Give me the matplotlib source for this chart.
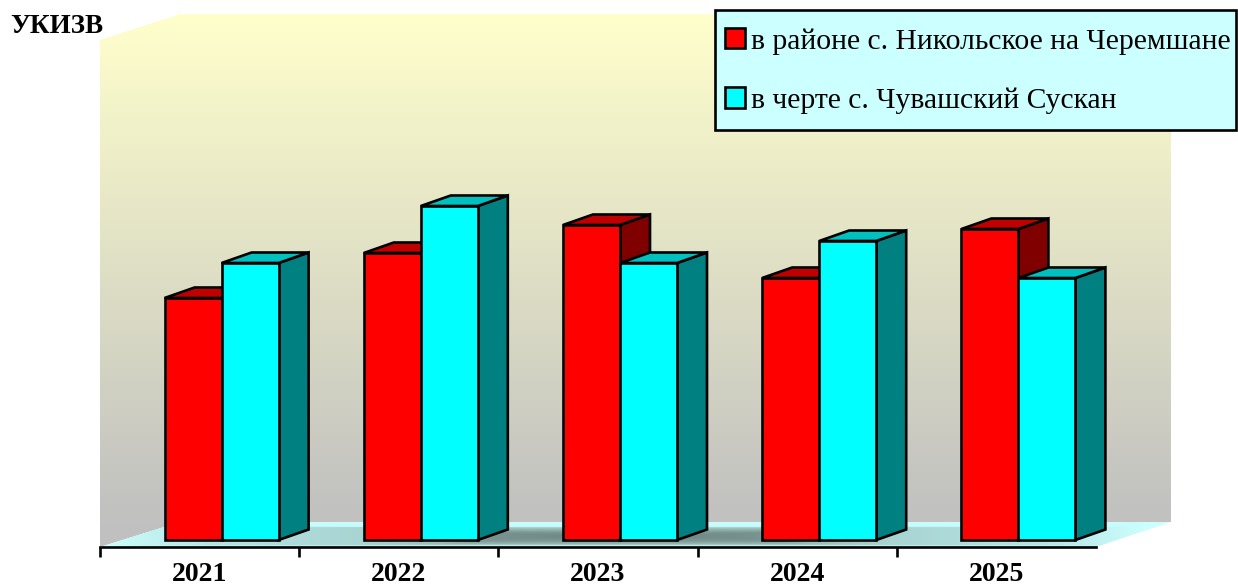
import numpy as np
import matplotlib
matplotlib.use("Agg")
import matplotlib.pyplot as plt
from matplotlib.patches import Polygon, Patch, Rectangle
from matplotlib.colors import LinearSegmentedColormap

years = ["2021", "2022", "2023", "2024", "2025"]
nikolskoe = [2.42, 2.87, 3.15, 2.62, 3.11]
suskan = [2.77, 3.34, 2.77, 2.99, 2.62]
series_names = ["в районе с. Никольское на Черемшане", "в черте с. Чувашский Сускан"]
y_title = "УКИЗВ"

W, H = 1238, 586
PX_X = 199.2        # pixels per category
PX_Y = 100.0        # pixels per value unit
X0, Y0 = 100, 540   # pixel position of category 0 / value 0
LINE = 1.9

plt.rcParams["font.family"] = ["Liberation Serif", "DejaVu Serif"]
fig = plt.figure(figsize=(W / 100, H / 100), dpi=100, facecolor="white")
ax = fig.add_axes([0, 0, 1, 1])
ax.set_facecolor("none")


def X(px):
    return (px - X0) / PX_X


def Y(py):
    return (Y0 - py) / PX_Y


xlim = (X(0), X(W))
ylim = (Y(H), Y(0))

# back and side walls share one vertical gradient
wall_cmap = LinearSegmentedColormap.from_list(
    "wall", [(0, "#FFFFCC"), (0.92, "#C2C2C0"), (1, "#C0C0C0")]
)
grad = np.linspace(0, 1, 512).reshape(-1, 1)
wall_img = ax.imshow(
    grad, cmap=wall_cmap, aspect="auto", zorder=1,
    extent=(X(100), X(1171), Y(547), Y(14)), origin="upper",
)
wall_clip = Polygon(
    [(X(100), Y(547)), (X(100), Y(40)), (X(180), Y(14)), (X(1171), Y(14)),
     (X(1171), Y(522)), (X(180), Y(522))],
    transform=ax.transData, facecolor="none", edgecolor="none",
)
ax.add_patch(wall_clip)
wall_img.set_clip_path(wall_clip)

# floor: pale cyan shading to a dark band around the middle
floor_cmap = LinearSegmentedColormap.from_list(
    "floor", [(0, "#CCFFFF"), (0.2, "#B6E6E4"), (0.45, "#A8D4D2"),
              (0.6, "#9CBCB8"), (0.85, "#7E9A96"), (1, "#6A8482")]
)
fx = np.linspace(100, 1171, 1071)
fy = np.linspace(522, 547, 100)
gx, gy = np.meshgrid(fx, fy)
across = np.interp(np.abs(gx - 625) / 525, [0, 0.25, 0.35, 0.5, 0.8, 1], [1, 0.9, 0.6, 0.45, 0.2, 0])
along = np.interp(gy, [522, 526.5, 527.5, 532, 536, 541, 544.5, 545.5, 547], [0.03, 0.03, 0.5, 0.85, 1, 0.85, 0.6, 0.12, 0.1])
floor_val = np.minimum(across, along)
floor_img = ax.imshow(
    floor_val, cmap=floor_cmap, vmin=0, vmax=1, aspect="auto", zorder=2,
    extent=(X(100), X(1171), Y(547), Y(522)), origin="upper",
)
floor_clip = Polygon(
    [(X(100), Y(547)), (X(180), Y(522)), (X(1171), Y(522)), (X(1096), Y(547))],
    transform=ax.transData, facecolor="none", edgecolor="none",
)
ax.add_patch(floor_clip)
floor_img.set_clip_path(floor_clip)

# 3D columns: front face from ax.bar, depth faces derived from the same values
bar_w = 57 / PX_X
group_c = X(221.6)
depth_x, depth_y = 30 / PX_X, 10.5 / PX_Y
edge = dict(edgecolor="black", linewidth=LINE, joinstyle="miter")

styles = [
    ("#FF0000", "#C00000", "#800000", nikolskoe, -bar_w / 2, 4),
    ("#00FFFF", "#00C0C0", "#008080", suskan, bar_w / 2, 6),
]
for front, top, side, values, offset, z in styles:
    xs = np.arange(len(values)) + group_c + offset
    for xc, v in zip(xs, values):
        left, right = xc - bar_w / 2, xc + bar_w / 2
        ax.add_patch(Polygon(
            [(right, 0), (right + depth_x, depth_y), (right + depth_x, v + depth_y), (right, v)],
            facecolor=side, zorder=z, **edge))
        ax.add_patch(Polygon(
            [(left, v), (left + depth_x, v + depth_y), (right + depth_x, v + depth_y), (right, v)],
            facecolor=top, zorder=z, **edge))
    ax.bar(xs, values, width=bar_w, color=front, zorder=z + 1, edgecolor="black", linewidth=LINE)

# category axis with separators between the groups
ax.set_xlim(xlim)
ax.set_ylim(ylim)
for name in ("top", "left", "right"):
    ax.spines[name].set_visible(False)
ax.spines["bottom"].set_position(("data", Y(547)))
ax.spines["bottom"].set_bounds(X(100), X(1096))
ax.spines["bottom"].set_linewidth(LINE)
ax.spines["bottom"].set_zorder(8)
ax.set_yticks([])
ax.set_xticks(np.arange(5))
ax.set_xticklabels([])
ax.tick_params(axis="x", which="major", length=7, width=LINE, direction="out", color="black")
ax.set_xticks(np.arange(5) + 0.5, labels=years, minor=True)
ax.tick_params(axis="x", which="minor", length=0, pad=11)
for label in ax.get_xticklabels(minor=True):
    label.set_fontsize(20)
    label.set_fontweight("bold")

ax.text(X(10), Y(26), y_title, fontsize=19.5, fontweight="bold", va="center", ha="left", zorder=9)

# legend: frame drawn separately so its side and top margins can differ
fig.add_artist(Rectangle(
    (715 / W, 1 - 130 / H), 521 / W, 120 / H, transform=fig.transFigure,
    facecolor="#CCFFFF", edgecolor="black", linewidth=LINE, zorder=10,
))
handles = [
    Patch(facecolor="#FF0000", edgecolor="black", linewidth=LINE, label=series_names[0]),
    Patch(facecolor="#00FFFF", edgecolor="black", linewidth=LINE, label=series_names[1]),
]
leg = fig.legend(
    handles=handles, loc="upper left",
    bbox_to_anchor=(725 / W, 1 - 28 / H), bbox_transform=fig.transFigure,
    borderaxespad=0, borderpad=0, fontsize=21.3, frameon=False,
    handlelength=0.68, handleheight=0.68, handletextpad=0.2, labelspacing=1.11,
)
leg.set_zorder(11)

fig.savefig("out.png", dpi=100)
